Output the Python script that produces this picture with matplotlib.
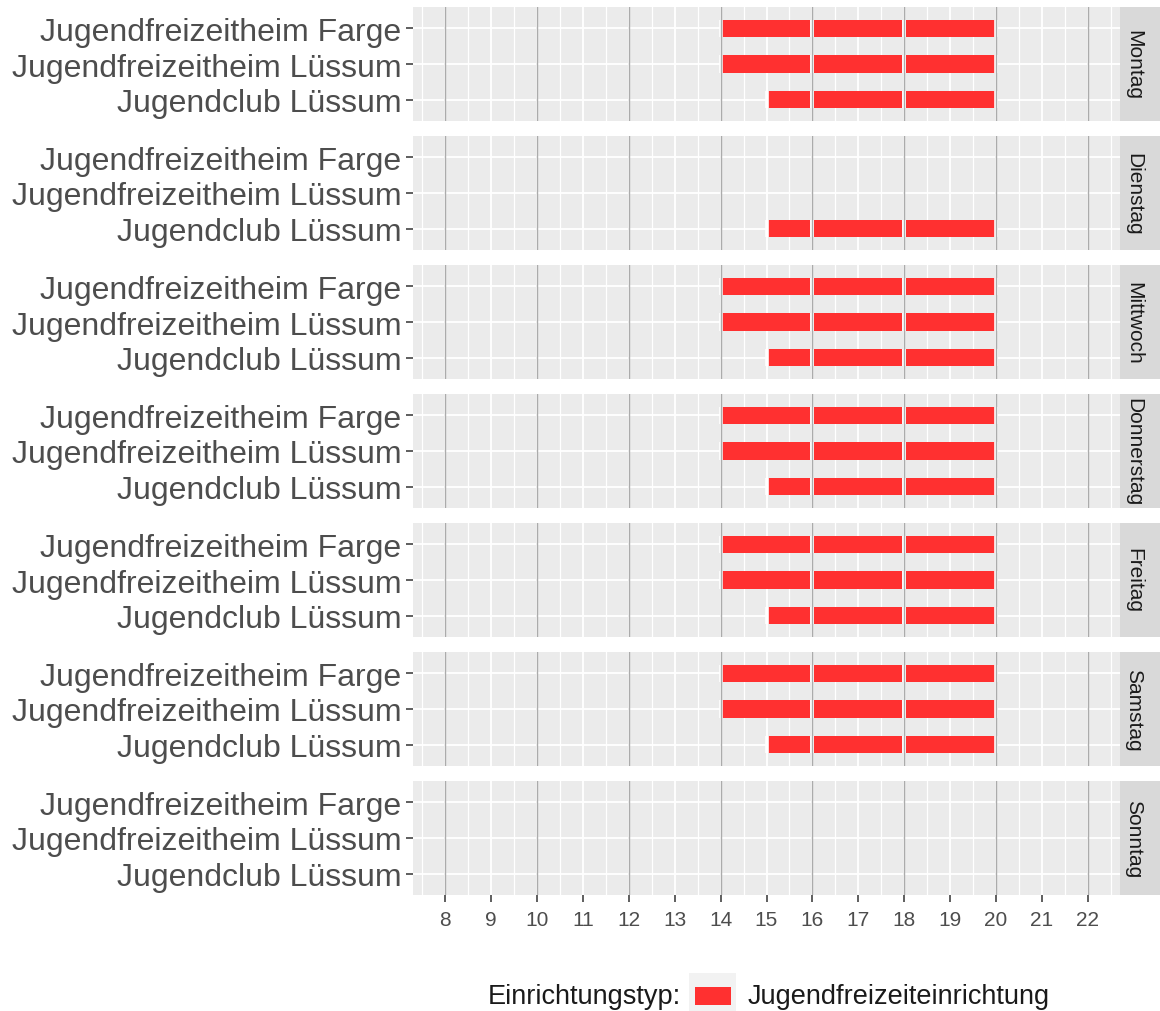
import matplotlib.pyplot as plt
from matplotlib.patches import Rectangle

plt.rcParams['font.family'] = ['Liberation Sans', 'DejaVu Sans']

# data
days = ['Montag', 'Dienstag', 'Mittwoch', 'Donnerstag', 'Freitag', 'Samstag', 'Sonntag']
facilities = ['Jugendfreizeitheim Farge', 'Jugendfreizeitheim Lüssum', 'Jugendclub Lüssum']
hours = list(range(8, 23))

# opening slots (start, end) in hours
slots_farge = [(14, 16), (16, 18), (18, 20)]
slots_luessum = [(14, 16), (16, 18), (18, 20)]
slots_club = [(15, 16), (16, 18), (18, 20)]
closed = []

# per day: slots for Farge, Lüssum, Jugendclub
schedule = {
    'Montag': [slots_farge, slots_luessum, slots_club],
    'Dienstag': [closed, closed, slots_club],
    'Mittwoch': [slots_farge, slots_luessum, slots_club],
    'Donnerstag': [slots_farge, slots_luessum, slots_club],
    'Freitag': [slots_farge, slots_luessum, slots_club],
    'Samstag': [slots_farge, slots_luessum, slots_club],
    'Sonntag': [closed, closed, closed],
}

legend_title = 'Einrichtungstyp:'
legend_label = 'Jugendfreizeiteinrichtung'

bar_colour = '#FF3030'
W, H = 1160, 1012
fig = plt.figure(figsize=(W / 100, H / 100), dpi=100)


def px(x, y, w, h):
    # pixel box (top-left origin) -> figure fraction
    return [x / W, 1 - (y + h) / H, w / W, h / H]


panel_left, panel_w = 413, 707
panel_top, panel_h, pitch = 8, 114, 129
ypos = [3, 2, 1]
bar_h = 0.48

for i, day in enumerate(days):
    top = panel_top + i * pitch
    ax = fig.add_axes(px(panel_left, top, panel_w, panel_h))
    ax.set_facecolor('#EBEBEB')
    for s in ax.spines.values():
        s.set_visible(False)
    ax.set_xlim(7.3, 22.7)
    ax.set_ylim(0.4, 3.6)

    # grid
    for h in hours:
        ax.axvline(h, color='white', lw=1.3, zorder=1)
    for h in range(7, 23):
        ax.axvline(h + 0.5, color='white', lw=0.9, zorder=1)
    for y in ypos:
        ax.axhline(y, color='white', lw=1.3, zorder=1)

    for y, slots in zip(ypos, schedule[day]):
        for start, end in slots:
            ax.barh(y, end - start, left=start, height=bar_h, color=bar_colour,
                    edgecolor='none', zorder=3)
            # small white gaps at the slot borders
            ax.vlines([start, end], y - bar_h / 2, y + bar_h / 2, color='white',
                      lw=2.6, zorder=3.5)

    for h in hours[::2]:
        ax.axvline(h, color='#ABABAB', lw=1.0, zorder=4)

    ax.set_yticks(ypos)
    ax.set_yticklabels(facilities, fontsize=23, color='#4D4D4D')
    ax.tick_params(axis='y', length=5, width=1.1, color='#333333', pad=3.5)
    ax.set_xticks(hours)
    if i == len(days) - 1:
        ax.set_xticklabels([str(h) for h in hours], fontsize=15, color='#4D4D4D')
        ax.tick_params(axis='x', length=5, width=1.1, color='#333333', pad=6)
    else:
        ax.tick_params(axis='x', bottom=False, labelbottom=False)

    # facet strip
    sax = fig.add_axes(px(1120, top, 40, panel_h))
    sax.set_facecolor('#D9D9D9')
    sax.set_xticks([])
    sax.set_yticks([])
    for s in sax.spines.values():
        s.set_visible(False)
    sax.text(0.34, 0.5, day, rotation=270, ha='center', va='center',
             fontsize=15, color='#1A1A1A', transform=sax.transAxes)

# legend
fig.text(488 / W, 1 - 997 / H, legend_title, fontsize=19.5, color='#1A1A1A',
         ha='left', va='center')
fig.patches.append(Rectangle(px(689, 974, 47, 40)[:2], 47 / W, 40 / H,
                             transform=fig.transFigure, facecolor='#F2F2F2',
                             edgecolor='none'))
fig.patches.append(Rectangle(px(695, 988, 36, 18)[:2], 36 / W, 18 / H,
                             transform=fig.transFigure, facecolor=bar_colour,
                             edgecolor='none'))
fig.text(748 / W, 1 - 997 / H, legend_label, fontsize=19.5, color='#1A1A1A',
         ha='left', va='center')

fig.savefig('out.png', dpi=100)
